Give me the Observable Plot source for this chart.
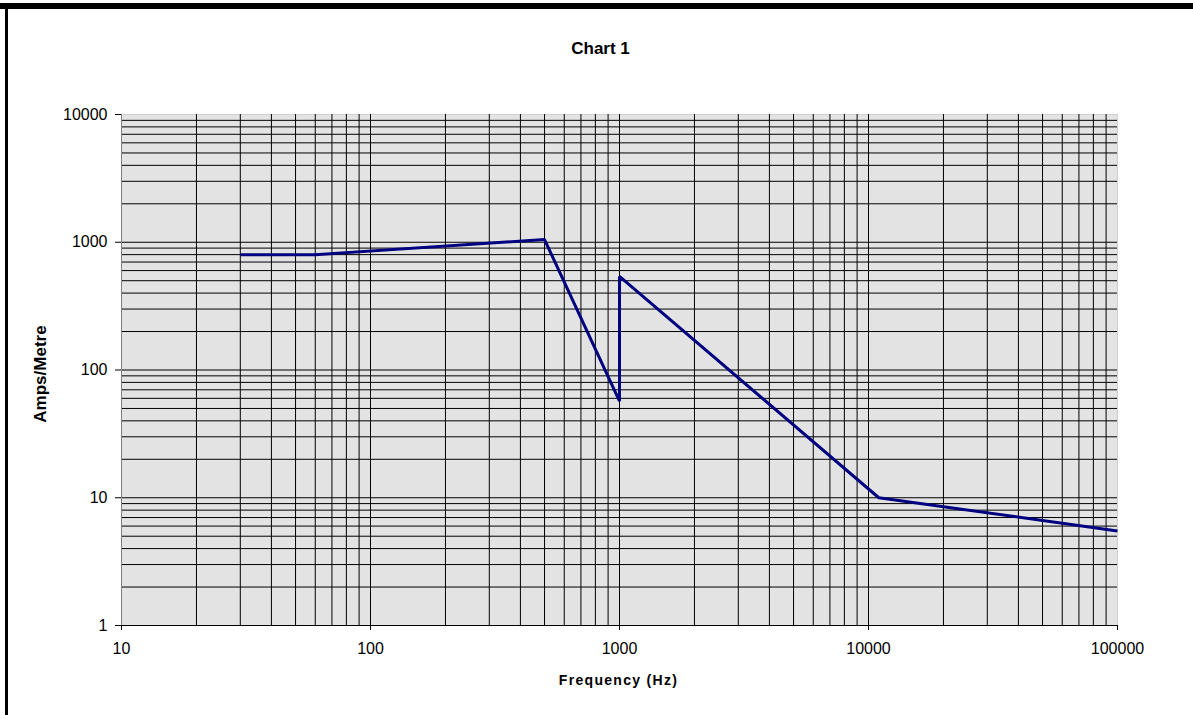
<!DOCTYPE html>
<html>
<head>
<meta charset="utf-8">
<script src="https://cdn.jsdelivr.net/npm/d3@7"></script>
<script src="https://cdn.jsdelivr.net/npm/@observablehq/plot@0.6"></script>
<style>
  html, body { margin: 0; padding: 0; background: #fff; }
  #wrap { position: relative; width: 1193px; height: 715px; overflow: hidden; }
  #topbar { position: absolute; left: 0; top: 3px; width: 1193px; height: 6px; background: #000; }
  #leftbar { position: absolute; left: 5px; top: 3px; width: 3px; height: 712px; background: #000; }
  #chart { position: absolute; left: 0; top: 0; }
</style>
</head>
<body>
<div id="wrap">
  <div id="chart"></div>
  <div id="topbar"></div>
  <div id="leftbar"></div>
</div>
<script>
// Data
const frequency = [30, 60, 500, 1000, 1000, 11000, 100000];
const ampsPerMetre = [800, 800, 1050, 57, 540, 10, 5.5];

// Axis / grid specification
const xTicks = [10, 100, 1000, 10000, 100000];
const yTicks = [1, 10, 100, 1000, 10000];
const multipliers = [1, 2, 3, 4, 5, 6, 7, 8, 9];
const xDecades = [10, 100, 1000, 10000];
const yDecades = [1, 10, 100, 1000];

const title = "Chart 1";
const xLabel = "Frequency (Hz)";
const yLabel = "Amps/Metre";

const data = frequency.map((f, i) => ({f, a: ampsPerMetre[i]}));
const xGrid = xDecades.flatMap(d => multipliers.map(m => m * d)).filter(v => v > 10);
const yGrid = yDecades.flatMap(d => multipliers.map(m => m * d)).filter(v => v > 1);

const fmt = d3.format("d");

const chart = Plot.plot({
  width: 1193,
  height: 715,
  marginLeft: 121,
  marginRight: 76,
  marginTop: 114,
  marginBottom: 90,
  style: {fontFamily: "'Liberation Sans', Arial, sans-serif", fontSize: "16px", background: "transparent", color: "#000"},
  x: {type: "log", domain: [10, 100000]},
  y: {type: "log", domain: [1, 10000]},
  marks: [
    Plot.frame({fill: "#e3e3e3", stroke: "#d0d0d0"}),
    Plot.ruleX(xGrid, {stroke: "#000", strokeWidth: 1}),
    Plot.ruleY(yGrid, {stroke: "#000", strokeWidth: 1}),
    Plot.ruleX([10], {stroke: "#808080", strokeWidth: 1}),
    Plot.ruleY([1], {stroke: "#000", strokeWidth: 1}),
    Plot.axisX({ticks: xTicks, tickFormat: fmt, tickSize: 5, tickPadding: 12, fontSize: 16, label: null, stroke: "#000"}),
    Plot.axisY({ticks: yTicks, tickFormat: fmt, tickSize: 6, tickPadding: 8, fontSize: 16, label: null, stroke: "#000"}),
    Plot.line(data, {x: "f", y: "a", stroke: "#000080", strokeWidth: 3, strokeLinejoin: "miter", strokeLinecap: "butt"}),
    Plot.text([title], {frameAnchor: "top", dx: -19, dy: -66, lineAnchor: "middle", textAnchor: "middle", fontSize: 17, fontWeight: "bold", fill: "#000"}),
    Plot.text([xLabel], {frameAnchor: "bottom", dx: -1, dy: 55, lineAnchor: "middle", textAnchor: "middle", fontSize: 14, fontWeight: "bold", fill: "#000"}),
    Plot.text([yLabel], {frameAnchor: "left", dx: -81, dy: 4, rotate: -90, lineAnchor: "middle", textAnchor: "middle", fontSize: 17, fontWeight: "bold", fill: "#000"})
  ]
});
d3.select(chart).selectAll("text").filter(function() { return this.textContent === xLabel; })
  .attr("letter-spacing", "1.3px");
document.getElementById("chart").appendChild(chart);
</script>
</body>
</html>
